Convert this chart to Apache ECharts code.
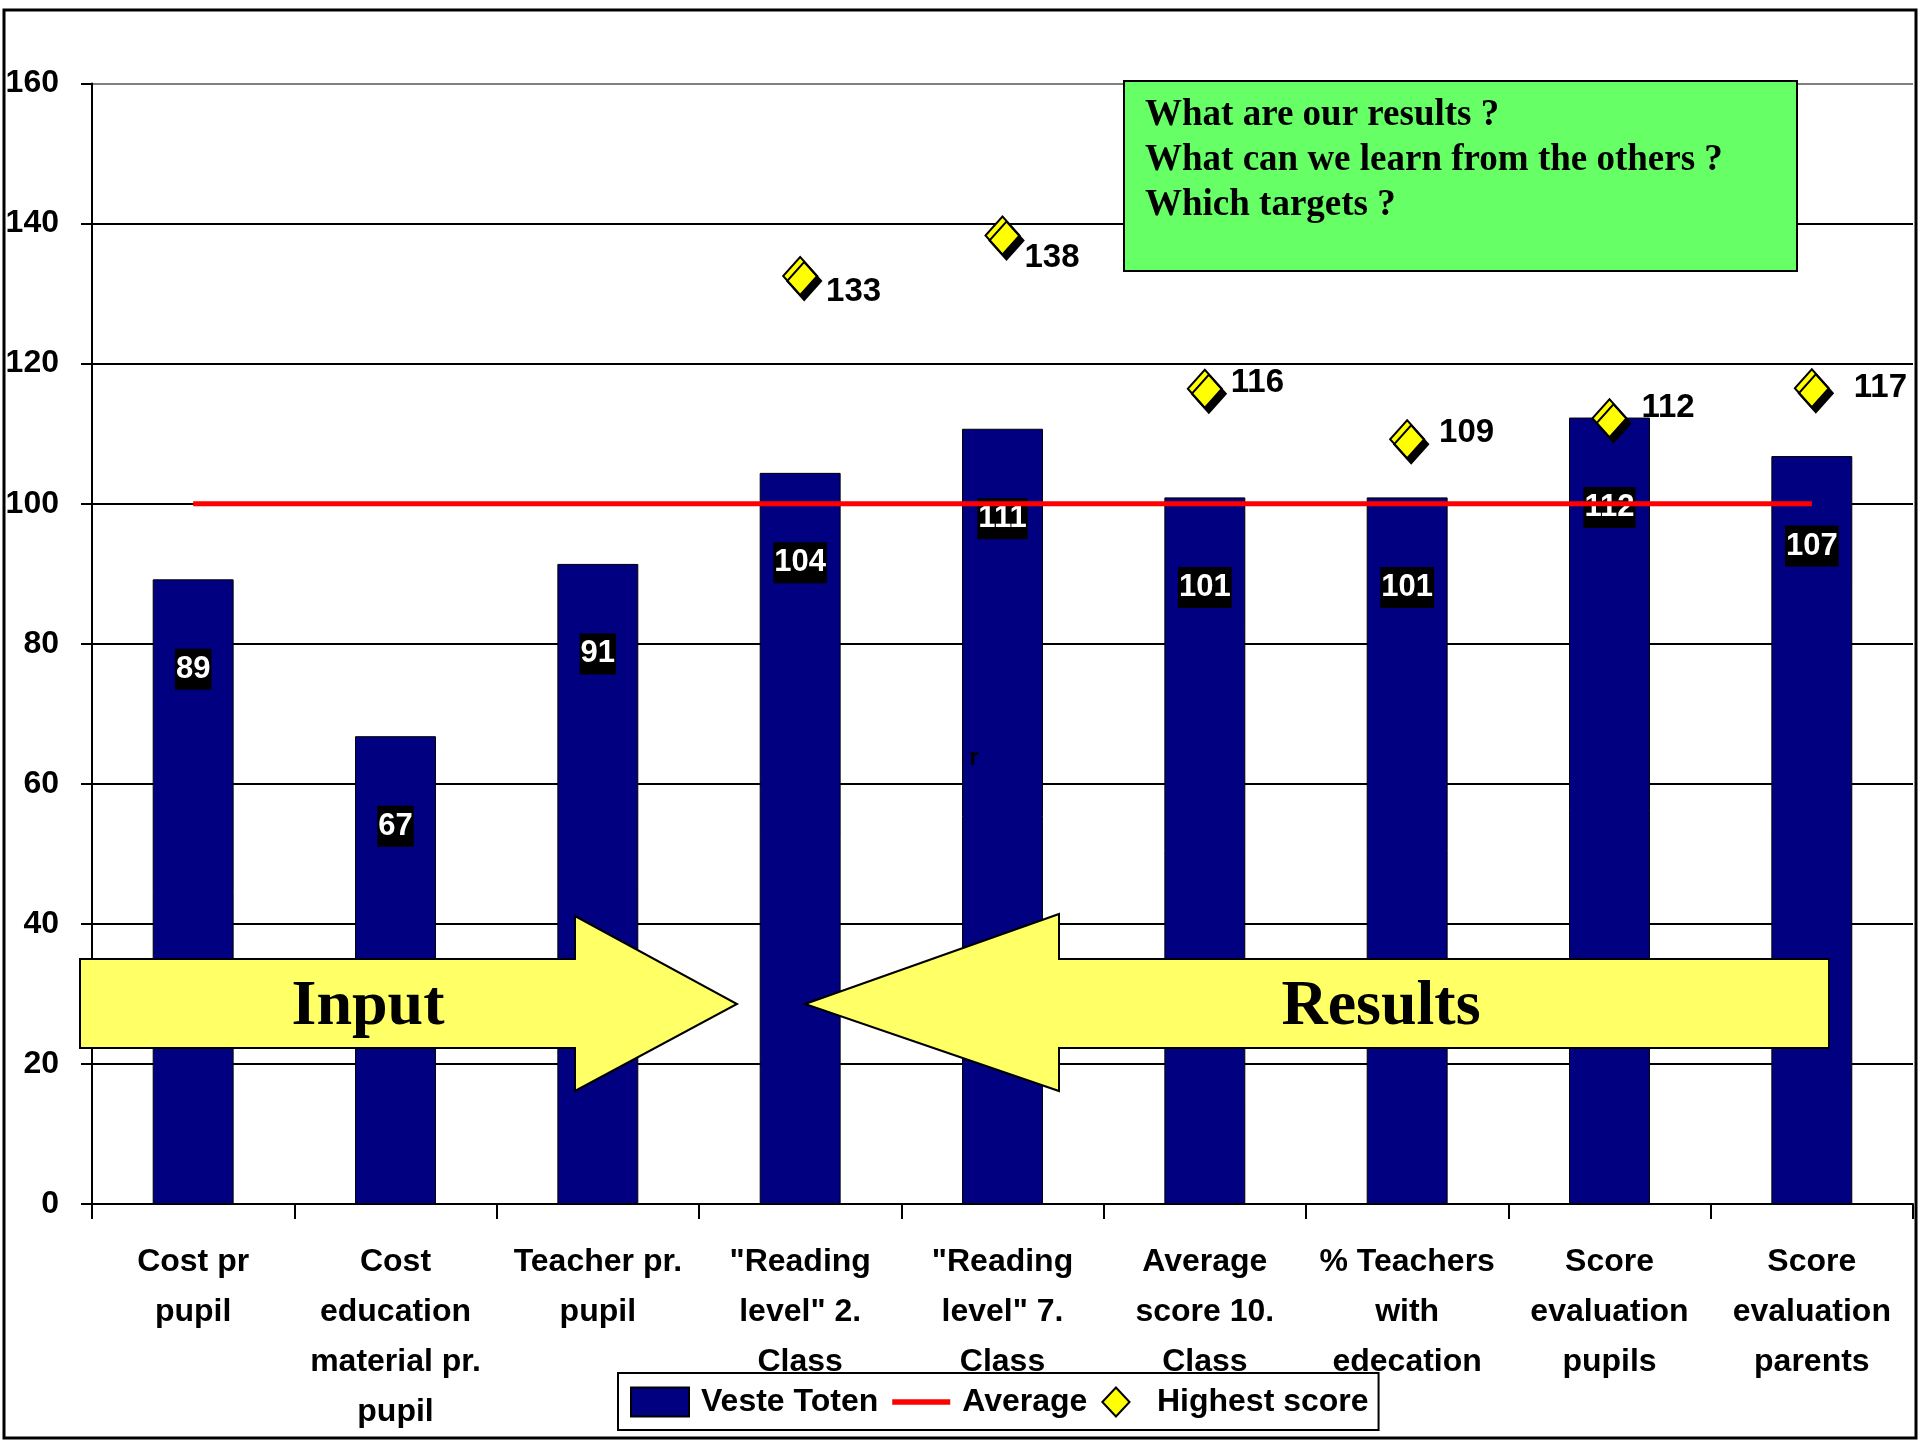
<!DOCTYPE html>
<html>
<head>
<meta charset="utf-8">
<script src="https://cdn.jsdelivr.net/npm/echarts@6/dist/echarts.min.js"></script>
<style>html,body{margin:0;padding:0;background:#fff}#c{width:1920px;height:1440px}</style>
</head>
<body>
<div id="c"></div>
<script>
const categories = [
  'Cost pr\npupil',
  'Cost\neducation\nmaterial pr.\npupil',
  'Teacher pr.\npupil',
  '"Reading\nlevel" 2.\nClass',
  '"Reading\nlevel" 7.\nClass',
  'Average\nscore 10.\nClass',
  '% Teachers\nwith\nedecation',
  'Score\nevaluation\npupils',
  'Score\nevaluation\nparents'
];
const vesteToten = [89.2, 66.8, 91.4, 104.4, 110.7, 100.9, 100.9, 112.3, 106.8];
const average = [100, 100, 100, 100, 100, 100, 100, 100, 100];
const highestScore = [null, null, null, 132.5, 138.3, 116.4, 109.2, 112.2, 116.5];
const highestLabels = [null, null, null, '133', '138', '116', '109', '112', '117'];
const yTicks = [0, 20, 40, 60, 80, 100, 120, 140, 160];
const boxLines = ['What are our results ?', 'What can we learn from the others ?', 'Which targets ?'];

const SANS = '"Liberation Sans",Arial,sans-serif';
const SERIF = '"Liberation Serif","Times New Roman",serif';
const FS = 32;

const hsLabelOffsets = [null, null, null, [0, 16], [-4, 22], [0, -6], [6, -6], [6, -10], [16, 0]];

const chart = echarts.init(document.getElementById('c'));
chart.setOption({
  animation: false,
  backgroundColor: '#fff',
  grid: { left: 92, right: 7, top: 83.5, bottom: 236, outerBoundsMode: 'none', containLabel: false },
  legend: {
    left: 618, top: 1373,
    padding: [13, 10, 12, 12],
    borderColor: '#000', borderWidth: 2,
    backgroundColor: '#fff',
    itemGap: 14, itemWidth: 58, itemHeight: 29,
    symbolKeepAspect: true,
    textStyle: { fontFamily: SANS, fontWeight: 'bold', fontSize: FS, color: '#000', padding: [0, 0, 0, 7] },
    data: [
      { name: 'Veste Toten', icon: 'rect', itemStyle: { color: '#000080', borderColor: '#000', borderWidth: 2 } },
      { name: 'Average', icon: 'path://M0,0 L55,0 L55,5 L0,5 Z', itemStyle: { color: '#ff0000', borderWidth: 0 } },
      { name: 'Highest score', icon: 'path://M15,0 L30,16 L15,32 L0,16 Z', itemStyle: { color: '#ffff00', borderColor: '#000', borderWidth: 2, opacity: 1, shadowBlur: 0, shadowOffsetX: 0, shadowOffsetY: 0, shadowColor: 'transparent' } }
    ]
  },
  xAxis: {
    type: 'category',
    data: categories,
    axisLine: { lineStyle: { color: '#000', width: 2 } },
    axisTick: { show: true, length: 15, lineStyle: { color: '#000', width: 2 } },
    axisLabel: {
      interval: 0, margin: 33,
      fontFamily: SANS, fontWeight: 'bold', fontSize: FS, lineHeight: 50, color: '#000'
    }
  },
  yAxis: {
    type: 'value', min: 0, max: 160, interval: 20,
    axisLine: { show: true, lineStyle: { color: '#000', width: 2 } },
    axisTick: { show: true, length: 11, lineStyle: { color: '#000', width: 2 } },
    axisLabel: {
      margin: 33, fontFamily: SANS, fontWeight: 'bold', fontSize: FS, color: '#000',
      formatter: v => yTicks.indexOf(v) >= 0 ? String(v) : ''
    },
    splitLine: { show: true, lineStyle: { color: ['#000', '#000', '#000', '#000', '#000', '#000', '#000', '#000', '#808080'], width: 2 } }
  },
  series: [
    {
      name: 'Veste Toten', type: 'bar', data: vesteToten, barWidth: '40%',
      itemStyle: { color: '#000080', borderColor: '#000', borderWidth: 1 },
      label: {
        show: true, position: ['50%', 90], align: 'center', verticalAlign: 'middle',
        formatter: p => String(Math.round(p.value)),
        color: '#fff', backgroundColor: '#000', padding: [6, 1, 4, 1],
        fontFamily: SANS, fontWeight: 'bold', fontSize: 31
      },
      z: 2
    },
    {
      name: 'Average', type: 'line', data: average, symbol: 'none',
      lineStyle: { color: '#ff0000', width: 5 }, z: 3
    },
    {
      name: 'Highest score', type: 'scatter', symbol: 'diamond', symbolSize: [34, 38],
      data: highestScore.map((v, i) => v === null ? null : {
        value: v,
        label: { offset: hsLabelOffsets[i] }
      }),
      itemStyle: { color: '#ffff00', opacity: 1, borderColor: '#000', borderWidth: 2, shadowColor: '#000', shadowBlur: 0, shadowOffsetX: 4, shadowOffsetY: 5 },
      label: {
        show: true, position: 'right', distance: 8,
        formatter: p => highestLabels[p.dataIndex],
        color: '#000', fontFamily: SANS, fontWeight: 'bold', fontSize: 33
      },
      z: 5
    }
  ],
  graphic: [
    { type: 'rect', z: 100, shape: { x: 4, y: 10, width: 1912, height: 1428 }, style: { fill: 'none', stroke: '#000', lineWidth: 3 }, silent: true },
    { type: 'rect', z: 50, shape: { x: 1124, y: 81, width: 673, height: 190 }, style: { fill: '#66ff66', stroke: '#000', lineWidth: 2 } },
    { type: 'text', z: 51, x: 1145, y: 93, style: { text: boxLines.join('\n'), font: 'bold 37px ' + SERIF, lineHeight: 45, fill: '#000' } },
    { type: 'polygon', z: 60, shape: { points: [[80,959],[575,959],[575,916],[737,1004],[575,1091],[575,1048],[80,1048]] }, style: { fill: '#ffff66', stroke: '#000', lineWidth: 2 } },
    { type: 'polygon', z: 60, shape: { points: [[805,1004],[1059,914],[1059,959],[1829,959],[1829,1048],[1059,1048],[1059,1091]] }, style: { fill: '#ffff66', stroke: '#000', lineWidth: 2 } },
    { type: 'text', z: 61, x: 368, y: 1007, style: { text: 'Input', font: 'bold 64px ' + SERIF, fill: '#000', align: 'center', verticalAlign: 'middle' } },
    { type: 'text', z: 61, x: 1381, y: 1007, style: { text: 'Results', font: 'bold 64px ' + SERIF, fill: '#000', align: 'center', verticalAlign: 'middle' } },
    { type: 'text', z: 10, x: 974, y: 758, style: { text: 'r', font: 'bold 24px ' + SANS, fill: '#000', align: 'center', verticalAlign: 'middle' } }
  ]
});
</script>
</body>
</html>
